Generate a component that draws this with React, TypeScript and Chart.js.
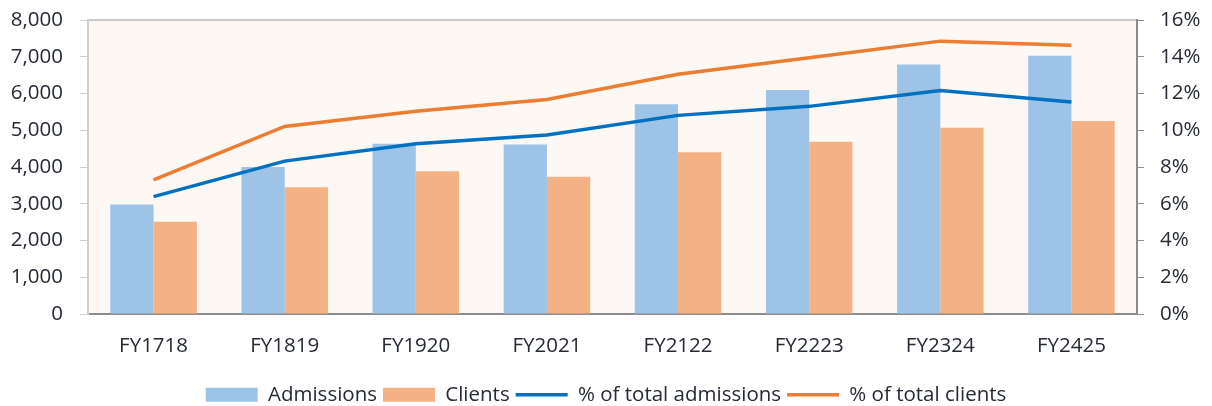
import { useEffect, useRef } from "react";
import { Chart, registerables } from "chart.js";

Chart.register(...registerables);

const categories = ["FY1718", "FY1819", "FY1920", "FY2021", "FY2122", "FY2223", "FY2324", "FY2425"];
const admissions = [2980, 4000, 4630, 4610, 5705, 6095, 6790, 7025];
const clients = [2512, 3448, 3885, 3732, 4404, 4688, 5070, 5250];
const pctAdmissions = [6.39, 8.32, 9.27, 9.74, 10.81, 11.3, 12.16, 11.54];
const pctClients = [7.3, 10.21, 11.03, 11.67, 13.05, 13.95, 14.85, 14.63];
const leftMax = 8000;
const leftStep = 1000;
const rightMax = 16;
const rightStep = 2;

const textColor = "#262b33";

const plotBg = {
  id: "plotBg",
  beforeDraw(chart: any) {
    const { ctx, chartArea } = chart;
    if (!chartArea) return;
    ctx.save();
    ctx.fillStyle = "#fdf8f4";
    ctx.fillRect(chartArea.left, chartArea.top, chartArea.right - chartArea.left, chartArea.bottom - chartArea.top);
    ctx.strokeStyle = "#c9c9c9";
    ctx.lineWidth = 2;
    ctx.beginPath();
    ctx.moveTo(chartArea.left, chartArea.top);
    ctx.lineTo(chartArea.right, chartArea.top);
    ctx.stroke();
    ctx.restore();
  },
};

export default function App() {
  const ref = useRef<HTMLCanvasElement | null>(null);

  useEffect(() => {
    if (!ref.current) return;
    Chart.defaults.font.family = "'Open Sans', sans-serif";
    Chart.defaults.font.size = 20.5;
    Chart.defaults.color = textColor;
    const chart = new Chart(ref.current, {
      type: "bar",
      data: {
        labels: categories,
        datasets: [
          {
            type: "bar",
            label: "Admissions",
            data: admissions,
            backgroundColor: "#9dc3e6",
            borderWidth: 0,
            yAxisID: "y",
            categoryPercentage: 0.66,
            barPercentage: 1,
            pointStyle: "rect",
            order: 1,
          } as any,
          {
            type: "bar",
            label: "Clients",
            data: clients,
            backgroundColor: "#f4b183",
            borderWidth: 0,
            yAxisID: "y",
            categoryPercentage: 0.66,
            barPercentage: 1,
            pointStyle: "rect",
            order: 1,
          } as any,
          {
            type: "line",
            label: "% of total admissions",
            data: pctAdmissions,
            borderColor: "#0070c0",
            backgroundColor: "#0070c0",
            borderWidth: 3.5,
            pointRadius: 0,
            tension: 0,
            yAxisID: "y1",
            pointStyle: "line",
            order: 0,
          } as any,
          {
            type: "line",
            label: "% of total clients",
            data: pctClients,
            borderColor: "#ed7d31",
            backgroundColor: "#ed7d31",
            borderWidth: 3.5,
            pointRadius: 0,
            tension: 0,
            yAxisID: "y1",
            pointStyle: "line",
            order: 0,
          } as any,
        ],
      },
      options: {
        animation: false,
        responsive: true,
        maintainAspectRatio: false,
        layout: { padding: { top: 20, left: 0, right: 0, bottom: 0 } },
        plugins: {
          tooltip: { enabled: false },
          legend: {
            position: "bottom",
            labels: {
              usePointStyle: true,
              pointStyleWidth: 52,
              boxHeight: 14,
              padding: 6,
              color: textColor,
              sort: (a: any, b: any) => a.datasetIndex - b.datasetIndex,
            },
          },
        },
        scales: {
          x: {
            grid: { display: false, drawTicks: false },
            border: { display: true, color: "#8c8c8c", width: 2 },
            ticks: { padding: 20, color: textColor },
            afterFit: (s: any) => {
              s.height = 64.5;
            },
          },
          y: {
            position: "left",
            min: 0,
            max: leftMax,
            grid: { drawOnChartArea: false, drawTicks: true, tickLength: 8, color: "#cfcfcf" },
            border: { display: true, color: "#cfcfcf", width: 2 },
            ticks: {
              stepSize: leftStep,
              padding: 17,
              color: textColor,
              callback: (v: any) => Number(v).toLocaleString("en-US"),
            },
            afterFit: (s: any) => {
              s.width = 88;
              s.paddingTop = 0;
              s.paddingBottom = 0;
            },
          },
          y1: {
            position: "right",
            min: 0,
            max: rightMax,
            grid: { drawOnChartArea: false, drawTicks: true, tickLength: 7, color: "#8c8c8c" },
            border: { display: true, color: "#8c8c8c", width: 2 },
            ticks: {
              stepSize: rightStep,
              padding: 16,
              color: textColor,
              callback: (v: any) => `${v}%`,
            },
            afterFit: (s: any) => {
              s.width = 75;
              s.paddingTop = 0;
              s.paddingBottom = 0;
            },
          },
        },
      },
      plugins: [plotBg],
    });
    return () => chart.destroy();
  }, []);

  return (
    <div style={{ position: "fixed", left: 0, top: 0, width: 1212, height: 415, background: "#ffffff" }}>
      <canvas ref={ref} />
    </div>
  );
}
